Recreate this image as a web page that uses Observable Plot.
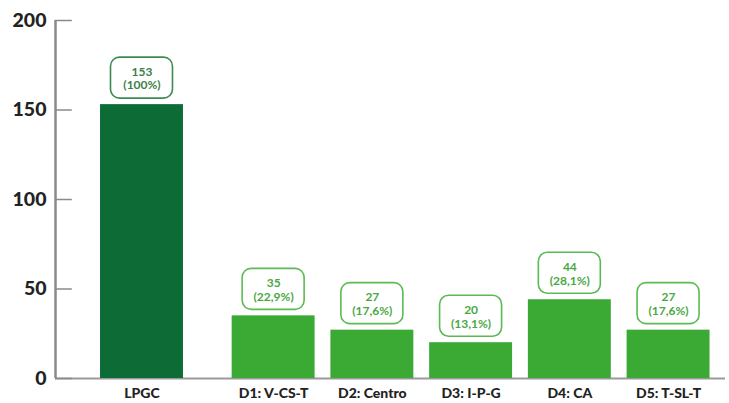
<!DOCTYPE html>
<html>
<head>
<meta charset="utf-8">
<script src="https://cdn.jsdelivr.net/npm/d3@7"></script>
<script src="https://cdn.jsdelivr.net/npm/@observablehq/plot@0.6"></script>
<style>
  html, body { margin: 0; padding: 0; background: #fff; }
  #chart svg { display: block; }
</style>
</head>
<body>
<div id="chart"></div>
<script>
const categories = ["LPGC", "D1: V-CS-T", "D2: Centro", "D3: I-P-G", "D4: CA", "D5: T-SL-T"];
const values = [153, 35, 27, 20, 44, 27];
const percents = ["100%", "22,9%", "17,6%", "13,1%", "28,1%", "17,6%"];
const groups = ["total", "district", "district", "district", "district", "district"];
const yTicks = [0, 50, 100, 150, 200];

// extra gap (one third of a step) separates the total from the districts
const data = categories.map((c, i) => ({
  name: c,
  value: values[i],
  pct: percents[i],
  group: groups[i],
  pos: i + (groups[i] === "district" ? 1 / 3 : 0)
}));

const xMin = -0.876, xMax = 5.91;
const half = 0.42;
const tickLen = 0.17;
const barColor = { total: "#0d6b35", district: "#3aaa35" };
const boxStroke = { total: "#3f8a50", district: "#5cba55" };
const textColor = { total: "#3d7f4b", district: "#4aa844" };

const chart = Plot.plot({
  width: 729,
  height: 403,
  marginLeft: 55,
  marginRight: 4,
  marginTop: 20,
  marginBottom: 25,
  style: { fontFamily: "Lato, 'Open Sans', sans-serif", background: "#fff" },
  x: { type: "linear", domain: [xMin, xMax], axis: null },
  y: { type: "linear", domain: [0, 200], axis: null },
  marks: [
    // baseline
    Plot.ruleY([0], { x1: xMin, x2: xMax, stroke: "#9a9a9a", strokeWidth: 2 }),
    // y axis line
    Plot.ruleX([xMin], { y1: 0, y2: 200, stroke: "#8a8a8a", strokeWidth: 2.5 }),
    // y ticks (inward)
    Plot.ruleY(yTicks, { x1: xMin, x2: xMin + tickLen, stroke: "#8a8a8a", strokeWidth: 1.5 }),
    Plot.text(yTicks, { x: xMin, y: d => d, text: d => String(d), textAnchor: "end", dx: -9, fontSize: 19.5, fontWeight: 900, fill: "#222" }),
    // bars
    Plot.rect(data, { x1: d => d.pos - half, x2: d => d.pos + half, y1: 0, y2: "value", fill: d => barColor[d.group] }),
    // label boxes
    Plot.rect(data, {
      x1: "pos", x2: "pos", y1: "value", y2: "value",
      insetLeft: -31, insetRight: -31, insetTop: -47, insetBottom: 6,
      rx: 9, fill: "#fff", stroke: d => boxStroke[d.group], strokeWidth: 1.6
    }),
    Plot.text(data, {
      x: "pos", y: "value", dy: -26.5,
      text: d => `${d.value}\n(${d.pct})`,
      fontSize: 12, fontWeight: "bold", lineHeight: 1.15,
      fill: d => textColor[d.group]
    }),
    // category labels
    Plot.text(data, { x: "pos", y: 0, text: "name", dy: 15, fontSize: 14, fontWeight: 900, fill: "#222" })
  ]
});

document.getElementById("chart").appendChild(chart);
</script>
</body>
</html>
